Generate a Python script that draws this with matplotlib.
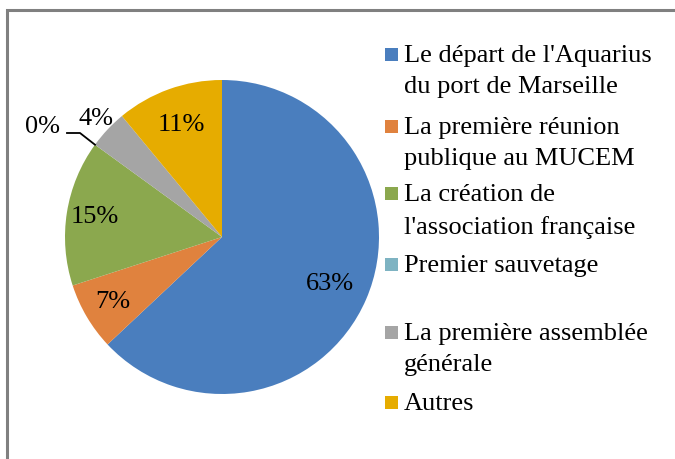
import numpy as np
import matplotlib
matplotlib.use("Agg")
import matplotlib.pyplot as plt
from matplotlib.patches import Rectangle

# Data
labels = [
    "Le départ de l'Aquarius\ndu port de Marseille",
    "La première réunion\npublique au MUCEM",
    "La création de\nl'association française",
    "Premier sauvetage",
    "La première assemblée\ngénérale",
    "Autres",
]
values = [63, 7, 15, 0, 4, 11]
colors = ["#4A7EBE", "#E0823E", "#8BA84E", "#7EB3C2", "#A5A5A5", "#E6AC00"]

plt.rcParams["font.family"] = ["Liberation Serif", "DejaVu Serif"]

fig = plt.figure(figsize=(6.75, 4.59), dpi=100)

# frame around the chart area (cropped on right and bottom)
fig.patches.append(Rectangle((7 / 675, -0.1), 1.2, (459 - 10) / 459 + 0.1,
                             transform=fig.transFigure, fill=False,
                             edgecolor="#808080", linewidth=2.2))

ax = fig.add_axes([65 / 675, (459 - 394) / 459, 314 / 675, 314 / 459])
wedges, _ = ax.pie(values, colors=colors, startangle=90, counterclock=False,
                   radius=1.0, wedgeprops=dict(linewidth=0))
ax.set_xlim(-1, 1)
ax.set_ylim(-1, 1)
ax.set_aspect("equal")
ax.axis("off")

# percentage labels
dists = [0.75, 0.81, 0.82, 1.34, 1.10, 0.76]
total = sum(values)
start = 90.0
for i, v in enumerate(values):
    span = 360.0 * v / total
    mid = np.deg2rad(start - span / 2)
    x, y = dists[i] * np.cos(mid), dists[i] * np.sin(mid)
    if v == 0:
        # 0% label sits up-left with a leader line
        x, y = -180 / 157, 110 / 157
        edge = np.deg2rad(start)
        ex, ey = np.cos(edge), np.sin(edge)
        ax.plot([-155 / 157, -142 / 157, ex], [104 / 157, 104 / 157, ey],
                color="black", linewidth=1.3, clip_on=False)
    ax.text(x, y, f"{v}%", ha="center", va="center", fontsize=19)
    start -= span

# legend drawn by hand (uneven spacing in the reference)
entry_y = [55, 127, 194, 265, 333, 403]
for lab, col, py in zip(labels, colors, entry_y):
    fig.patches.append(Rectangle((385 / 675, 1 - (py + 6) / 459), 13 / 675, 13 / 459,
                                 transform=fig.transFigure, facecolor=col,
                                 edgecolor="none"))
    fig.text(404 / 675, 1 - (py - 10) / 459, lab, ha="left", va="top",
             fontsize=19, linespacing=1.55)

fig.savefig("out.png", dpi=100)
